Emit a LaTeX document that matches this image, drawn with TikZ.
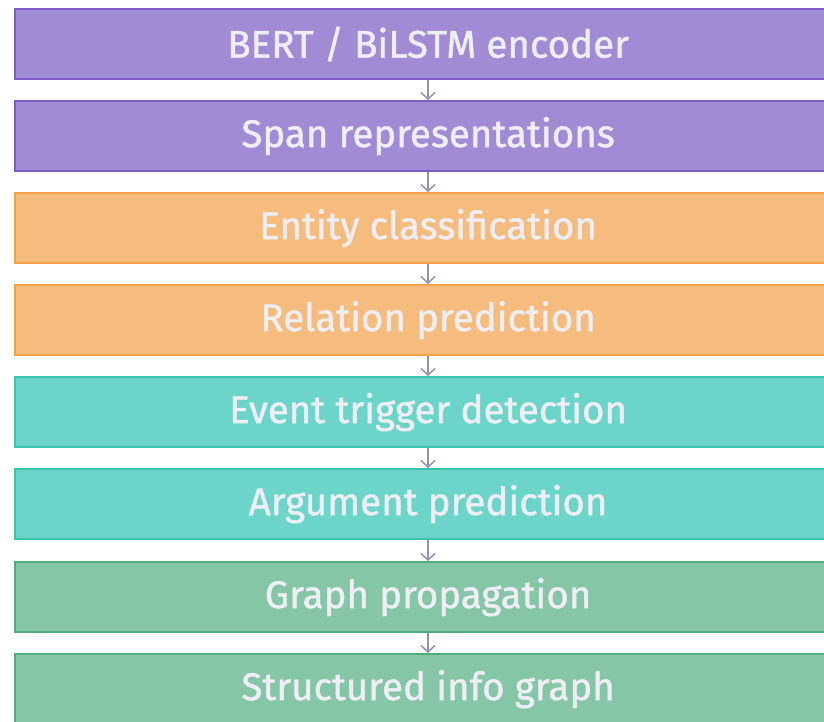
\documentclass[tikz,border=0pt]{standalone}
\usepackage{fontspec}
\setmainfont{Fira Sans}[FakeBold=1.2]
\usetikzlibrary{arrows.meta}
\definecolor{purpleFill}{HTML}{A18BD5}
\definecolor{purpleLine}{HTML}{7D5CC6}
\definecolor{orangeFill}{HTML}{F5BC7E}
\definecolor{orangeLine}{HTML}{F2A24C}
\definecolor{tealFill}{HTML}{6BD5C9}
\definecolor{tealLine}{HTML}{3DC2B1}
\definecolor{greenFill}{HTML}{84C6A6}
\definecolor{greenLine}{HTML}{4FAE80}
\definecolor{labelText}{HTML}{EEEEF4}
\definecolor{arrowGray}{HTML}{8C95A8}
\tikzset{
  x=1pt, y=1pt,
  stage/.style={draw, line width=2.2pt, minimum width=826pt, minimum height=70pt,
    inner sep=0pt, anchor=north west, text=labelText,
    font=\fontsize{38.5}{43}\selectfont},
  encoderstage/.style={stage, fill=purpleFill, draw=purpleLine},
  entitystage/.style={stage, fill=orangeFill, draw=orangeLine},
  eventstage/.style={stage, fill=tealFill, draw=tealLine},
  graphstage/.style={stage, fill=greenFill, draw=greenLine},
  flow/.style={draw=arrowGray, line width=1.5pt,
    -{Straight Barb[length=6.5pt, width=14pt, line width=1.5pt]}}
}
\begin{document}
\begin{tikzpicture}
\useasboundingbox (0,0) rectangle (824,-721);
\node[encoderstage] (s1) at (14,-8)   {BERT / BiLSTM encoder};
\node[encoderstage] (s2) at (14,-100) {Span representations};
\node[entitystage]  (s3) at (14,-192) {Entity classification};
\node[entitystage]  (s4) at (14,-284) {Relation prediction};
\node[eventstage]   (s5) at (14,-376) {Event trigger detection};
\node[eventstage]   (s6) at (14,-468) {Argument prediction};
\node[graphstage]   (s7) at (14,-561) {Graph propagation};
\node[graphstage]   (s8) at (14,-653) {Structured info graph};
\foreach \a/\b in {s1/s2,s2/s3,s3/s4,s4/s5,s5/s6,s6/s7,s7/s8}
  \draw[flow] (\a.south -| 428,0) -- (\b.north -| 428,0);
\end{tikzpicture}
\end{document}
